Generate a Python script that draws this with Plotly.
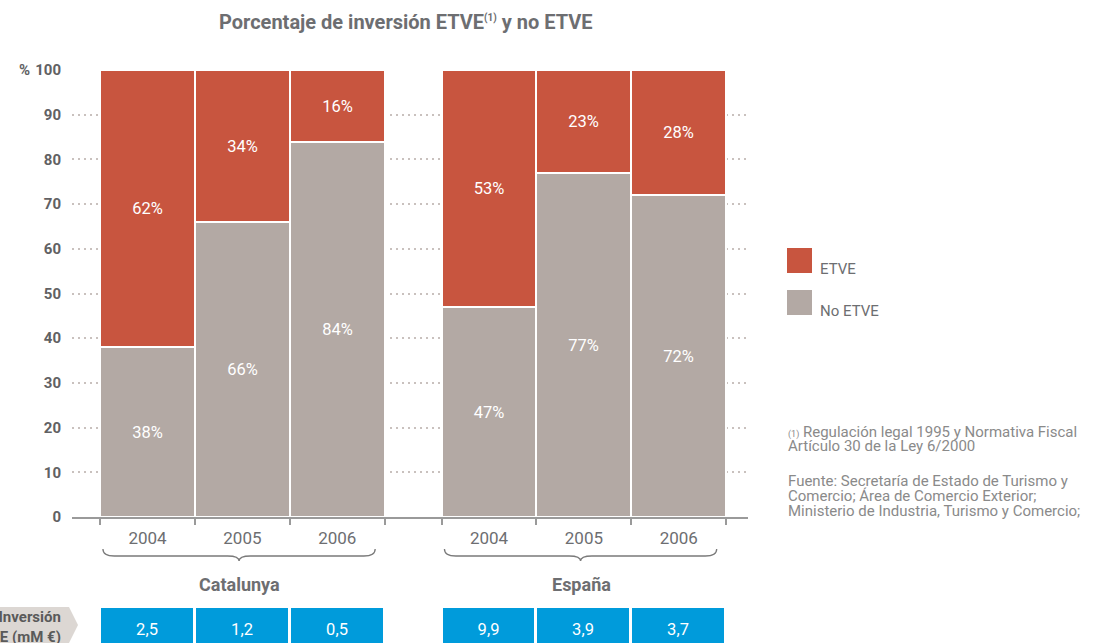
import plotly.graph_objects as go

years = ["2004", "2005", "2006"]
regions = ["Catalunya", "España"]
etve_cat = [62, 34, 16]
no_etve_cat = [38, 66, 84]
etve_esp = [53, 23, 28]
no_etve_esp = [47, 77, 72]
inversion_cat = [2.5, 1.2, 0.5]
inversion_esp = [9.9, 3.9, 3.7]

RED = "#c8553f"
GREY = "#b3a9a4"
BLUE = "#009bdb"
TEXT = "#5e5f61"
FONT = "Roboto"

# bar positions: two groups of three, with a gap between them
x_cat = [i for i in range(len(years))]
x_esp = [i + 3.6 for i in range(len(years))]
x_all = x_cat + x_esp


def pct(vals):
    return [f"{v}%" for v in vals]


def py(pixel):
    # pixel row from the top -> paper y (margins are zero top/bottom)
    return 1 - pixel / 643


def px(pixel):
    # pixel column -> paper x (plot area runs from 72 to 748)
    return (pixel - 72) / 676


fig = go.Figure()
fig.add_trace(
    go.Bar(
        x=x_all,
        y=no_etve_cat + no_etve_esp,
        name="No ETVE",
        width=1,
        marker=dict(color=GREY, line=dict(color="white", width=2)),
        text=pct(no_etve_cat + no_etve_esp),
        textposition="inside",
        insidetextanchor="middle",
        textfont=dict(color="white", size=16.5, family=FONT),
        hoverinfo="skip",
    )
)
fig.add_trace(
    go.Bar(
        x=x_all,
        y=etve_cat + etve_esp,
        name="ETVE",
        width=1,
        marker=dict(color=RED, line=dict(color="white", width=2)),
        text=pct(etve_cat + etve_esp),
        textposition="inside",
        insidetextanchor="middle",
        textfont=dict(color="white", size=16.5, family=FONT),
        hoverinfo="skip",
    )
)
# blue strip with the investment values
inv = inversion_cat + inversion_esp
fig.add_trace(
    go.Bar(
        x=x_all,
        y=[1] * len(inv),
        xaxis="x2",
        yaxis="y2",
        width=1,
        marker=dict(color=BLUE, line=dict(color="white", width=3)),
        text=[f"{v:.1f}".replace(".", ",") for v in inv],
        textposition="inside",
        insidetextanchor="middle",
        textfont=dict(color="white", size=16.5, family=FONT),
        hoverinfo="skip",
        showlegend=False,
    )
)

# group boundaries get the small ticks under the axis
bounds = sorted(set([x - 0.5 for x in x_all] + [x + 0.5 for x in x_all]))

fig.update_layout(
    width=1098,
    height=643,
    barmode="stack",
    bargap=0,
    showlegend=False,
    plot_bgcolor="white",
    paper_bgcolor="white",
    margin=dict(l=72, r=350, t=0, b=0),
    font=dict(family=FONT, color=TEXT),
    xaxis=dict(
        range=[-0.796, 6.33],
        tickvals=x_all,
        ticktext=years + years,
        ticks="",
        tickfont=dict(size=17, color="#6d6e71"),
        ticklabelstandoff=5,
        showline=True,
        linecolor="#9a9a9a",
        linewidth=1.5,
        showgrid=False,
        zeroline=False,
        anchor="y",
        minor=dict(tickvals=bounds, ticks="outside", ticklen=6,
                   tickcolor="#9a9a9a", tickwidth=1.5, showgrid=False),
        automargin=False,
    ),
    yaxis=dict(
        domain=[py(517), py(70)],
        range=[0, 100],
        dtick=10,
        ticks="",
        tickfont=dict(size=15, color="#616163", weight="bold"),
        ticklabelstandoff=10,
        showgrid=True,
        gridcolor="#c9c1be",
        griddash="2px,4px",
        gridwidth=2,
        zeroline=False,
        automargin=False,
    ),
    xaxis2=dict(matches="x", anchor="y2", visible=False),
    yaxis2=dict(domain=[0, py(607)], range=[0.2, 1], visible=False),
)

# title
fig.add_annotation(
    x=px(406), y=py(22), xref="paper", yref="paper", yanchor="middle",
    text="Porcentaje de inversión ETVE<sup><span style='font-size:10px'>(1)</span></sup> y no ETVE",
    showarrow=False, font=dict(size=20, color="#6d6e71", weight="bold"),
)
fig.add_annotation(
    x=px(17), y=100, xref="paper", yref="y", text="%", yanchor="middle",
    showarrow=False, xanchor="left", font=dict(size=15, color="#616163", weight="bold"),
)


# braces and group names
def brace(x0, x1, y_top, y_mid, y_bot, dx=0.12):
    xc = (x0 + x1) / 2
    return (
        f"M {x0},{y_top} Q {x0},{y_mid} {x0 + dx},{y_mid} "
        f"L {xc - dx},{y_mid} Q {xc},{y_mid} {xc},{y_bot} "
        f"Q {xc},{y_mid} {xc + dx},{y_mid} L {x1 - dx},{y_mid} "
        f"Q {x1},{y_mid} {x1},{y_top}"
    )


for name, xs in zip(regions, [x_cat, x_esp]):
    x0, x1 = xs[0] - 0.47, xs[-1] + 0.4
    fig.add_shape(
        type="path", xref="x", yref="paper",
        path=brace(x0, x1, py(549), py(556), py(561)),
        line=dict(color="#7a7a7a", width=1.3),
    )
    fig.add_annotation(
        x=(xs[0] + xs[-1]) / 2 - 0.03, y=py(584), xref="x", yref="paper",
        yanchor="middle", text=name, showarrow=False,
        font=dict(size=18, color="#6d6e71", weight="bold"),
    )

# label arrow for the investment strip
fig.add_shape(
    type="path", xref="paper", yref="paper",
    path=(f"M -0.2,{py(607)} L {px(69)},{py(607)} "
          f"L {px(78)},{py(625)} L {px(69)},0 L -0.2,0 Z"),
    fillcolor="#dcd7d3", line=dict(width=0),
)
fig.add_annotation(
    x=px(63), y=py(627), xref="paper", yref="paper", yanchor="middle",
    text="Inversión<br>ETVE (mM €)", showarrow=False, xanchor="right", align="right",
    font=dict(size=15, color="#5a5a5a", weight="bold"),
)

# legend
for i, (name, color) in enumerate([("ETVE", RED), ("No ETVE", GREY)]):
    top = 248 + i * 42
    fig.add_shape(
        type="rect", xref="paper", yref="paper",
        x0=px(787), x1=px(812), y0=py(top + 25), y1=py(top),
        fillcolor=color, line=dict(width=0),
    )
    fig.add_annotation(
        x=px(818), y=py(top + 21), xref="paper", yref="paper", yanchor="middle",
        text=name, showarrow=False, xanchor="left",
        font=dict(size=15, color="#6d6e71"),
    )

# notes
notes = [
    ("<span style='font-size:9px'>(1)</span> Regulación legal 1995 y Normativa Fiscal", 432),
    ("Artículo 30 de la Ley 6/2000", 446),
    ("Fuente: Secretaría de Estado de Turismo y", 481),
    ("Comercio; Área de Comercio Exterior;", 496),
    ("Ministerio de Industria, Turismo y Comercio;", 511),
]
for text, y in notes:
    fig.add_annotation(
        x=px(786), y=py(y), xref="paper", yref="paper", yanchor="middle",
        text=text, showarrow=False, xanchor="left",
        font=dict(size=15, color="#8a8a8a"),
    )

fig.write_html(
    "out.html",
    config={"displayModeBar": False},
    post_script="document.body.style.margin = '0';",
)
